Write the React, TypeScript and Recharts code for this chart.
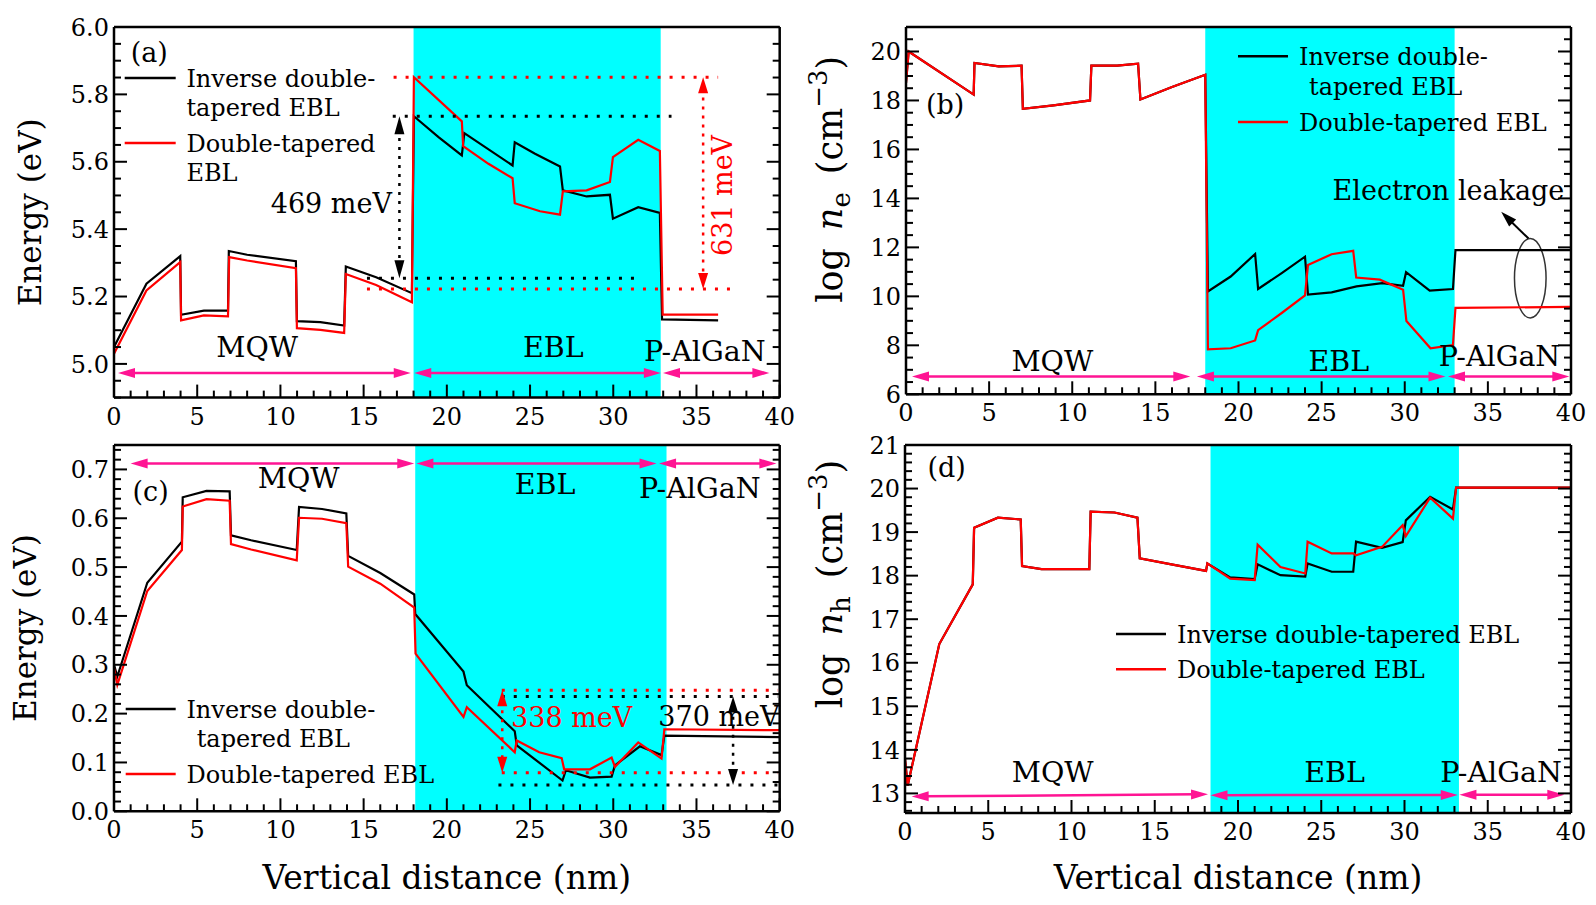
import React from 'react';
import { LineChart, Line, XAxis, YAxis, ReferenceArea, ReferenceLine, ReferenceDot, Legend } from 'recharts';

const FONT = '"DejaVu Serif", "Liberation Serif", serif';
const BLACK = '#000000';
const RED = '#ff0000';
const PINK = '#ff1493';
const CYAN = '#00ffff';

const seriesNames = ['Inverse double-tapered EBL', 'Double-tapered EBL'];

// ---------- x axis (shared) ----------
const xMajorTicks = [0, 5, 10, 15, 20, 25, 30, 35, 40];
const xMajorLabels = ['0', '5', '10', '15', '20', '25', '30', '35', '40'];

// ---------- (a) conduction band energy ----------
const aYMajor = [5.0, 5.2, 5.4, 5.6, 5.8, 6.0];
const aYLabels = ['5.0', '5.2', '5.4', '5.6', '5.8', '6.0'];
const aInverse: [number, number][] = [
  [0, 5.05], [1.95, 5.238], [3.98, 5.32], [4.03, 5.146], [5.4, 5.158], [6.85, 5.158], [6.9, 5.335],
  [8.0, 5.324], [10.93, 5.305], [10.99, 5.127], [12.4, 5.124], [13.83, 5.114], [13.93, 5.289],
  [15.75, 5.257], [17.9, 5.21], [18.02, 5.735], [19.5, 5.673], [20.9, 5.619], [21.05, 5.685],
  [23.95, 5.589], [24.08, 5.658], [25.3, 5.624], [26.8, 5.586], [26.97, 5.515], [28.4, 5.497],
  [29.8, 5.502], [29.98, 5.431], [31.5, 5.465], [32.8, 5.448], [32.93, 5.132], [36.3, 5.129],
];
const aDouble: [number, number][] = [
  [0, 5.03], [1.95, 5.218], [3.98, 5.302], [4.03, 5.129], [5.4, 5.144], [6.85, 5.141], [6.92, 5.317],
  [8.0, 5.307], [10.93, 5.284], [10.99, 5.106], [12.4, 5.101], [13.83, 5.092], [13.93, 5.267],
  [15.75, 5.234], [17.9, 5.183], [18.02, 5.851], [20.9, 5.72], [20.98, 5.646], [22.5, 5.594],
  [23.95, 5.551], [24.08, 5.477], [25.6, 5.453], [26.8, 5.443], [26.97, 5.512], [28.4, 5.515],
  [29.8, 5.54], [29.98, 5.614], [31.5, 5.665], [32.8, 5.632], [32.97, 5.146], [36.3, 5.146],
];

// ---------- (b) electron concentration ----------
const bYMajor = [6, 8, 10, 12, 14, 16, 18, 20];
const bYLabels = ['6', '8', '10', '12', '14', '16', '18', '20'];
const bMqw: [number, number][] = [
  [0, 18.72], [0.16, 20.0], [4.07, 18.24], [4.12, 19.53], [5.58, 19.39], [6.95, 19.42], [7.03, 17.66],
  [8.87, 17.8], [11.07, 18.0], [11.15, 19.42], [12.7, 19.42], [13.96, 19.5], [14.1, 18.04],
  [16.0, 18.55], [18.0, 19.05],
];
const bInverseEbl: [number, number][] = [
  [18.16, 10.2], [19.53, 10.81], [21.0, 11.73], [21.18, 10.3], [22.6, 10.95], [24.0, 11.62],
  [24.18, 10.07], [25.6, 10.16], [27.1, 10.41], [28.65, 10.54], [29.9, 10.43], [30.08, 10.99],
  [31.5, 10.23], [32.9, 10.3], [33.05, 11.89], [40, 11.89],
];
const bDoubleEbl: [number, number][] = [
  [18.16, 7.84], [19.53, 7.88], [21.0, 8.2], [21.18, 8.62], [22.6, 9.32], [24.0, 10.04],
  [24.18, 11.28], [25.6, 11.72], [26.9, 11.86], [27.08, 10.77], [28.5, 10.68], [29.9, 10.27],
  [30.1, 8.99], [31.55, 7.88], [32.9, 8.01], [33.05, 9.53], [40, 9.57],
];

// ---------- (c) valence band energy ----------
const cYMajor = [0, 0.1, 0.2, 0.3, 0.4, 0.5, 0.6, 0.7];
const cYLabels = ['0.0', '0.1', '0.2', '0.3', '0.4', '0.5', '0.6', '0.7'];
const cInverse: [number, number][] = [
  [0, 0.3], [0.2, 0.276], [2.0, 0.468], [4.08, 0.552], [4.13, 0.643], [5.56, 0.656], [6.95, 0.655],
  [7.03, 0.565], [8.24, 0.555], [10.98, 0.535], [11.12, 0.623], [12.5, 0.619], [13.96, 0.61],
  [14.07, 0.523], [16.0, 0.488], [18.04, 0.444], [18.1, 0.404], [21.0, 0.286], [21.2, 0.258],
  [24.08, 0.164], [24.2, 0.135], [26.95, 0.063], [27.15, 0.084], [28.6, 0.069], [29.9, 0.071],
  [30.1, 0.094], [31.6, 0.133], [32.9, 0.115], [33.07, 0.155], [40, 0.152],
];
const cDouble: [number, number][] = [
  [0, 0.293], [0.2, 0.259], [2.0, 0.451], [4.08, 0.535], [4.13, 0.624], [5.56, 0.639], [6.95, 0.636],
  [7.03, 0.547], [8.24, 0.536], [10.98, 0.514], [11.12, 0.601], [12.5, 0.599], [13.96, 0.59],
  [14.07, 0.501], [16.0, 0.466], [18.04, 0.417], [18.12, 0.323], [21.0, 0.193], [21.2, 0.213],
  [24.08, 0.121], [24.2, 0.145], [25.55, 0.121], [26.9, 0.109], [27.05, 0.086], [28.6, 0.086],
  [29.9, 0.11], [30.1, 0.091], [31.5, 0.141], [32.9, 0.108], [33.07, 0.168], [40, 0.166],
];

// ---------- (d) hole concentration ----------
const dYMajor = [13, 14, 15, 16, 17, 18, 19, 20, 21];
const dYLabels = ['13', '14', '15', '16', '17', '18', '19', '20', '21'];
const dMqw: [number, number][] = [
  [0, 13.79], [0.16, 13.18], [2.06, 16.43], [4.07, 17.8], [4.15, 19.1], [5.58, 19.33], [6.95, 19.29],
  [7.03, 18.22], [8.2, 18.15], [11.07, 18.15], [11.15, 19.47], [12.58, 19.45], [13.96, 19.33],
  [14.1, 18.4], [16.0, 18.26], [18.08, 18.11], [18.16, 18.28],
];
const dInverseEbl: [number, number][] = [
  [19.53, 17.96], [21.0, 17.92], [21.18, 18.26], [22.55, 18.01], [24.04, 17.98], [24.18, 18.28],
  [25.63, 18.09], [26.92, 18.09], [27.09, 18.78], [28.65, 18.64], [29.89, 18.77], [30.08, 19.27],
  [31.54, 19.81], [32.91, 19.52], [33.1, 20.02], [40, 20.02],
];
const dDoubleEbl: [number, number][] = [
  [19.53, 17.93], [21.0, 17.9], [21.18, 18.71], [22.55, 18.2], [24.04, 18.05], [24.18, 18.78],
  [25.63, 18.51], [26.92, 18.51], [27.09, 18.47], [28.65, 18.66], [29.89, 19.16], [30.08, 18.91],
  [31.54, 19.79], [32.91, 19.31], [33.1, 20.02], [40, 20.02],
];

// ---------- helpers ----------
type Pt = { x: number; y: number };
const toPts = (arr: [number, number][]): Pt[] => arr.map(([x, y]) => ({ x, y }));
function steps(a: number, b: number, step: number): number[] {
  const out: number[] = [];
  const n = Math.round((b - a) / step);
  for (let i = 0; i <= n; i++) out.push(+(a + i * step).toFixed(4));
  return out;
}

const TICK_FS = 24;
function makeTick(orient: 'bottom' | 'left' | 'top' | 'right', major: number[], labels: string[]) {
  return function TickMark(props: any) {
    const x = Number(props.x);
    const y = Number(props.y);
    const v = Number(props.payload?.value);
    const idx = major.findIndex((m) => Math.abs(m - v) < 1e-6);
    const len = idx >= 0 ? 13 : 7;
    let x2 = x;
    let y2 = y;
    if (orient === 'bottom') y2 = y - len;
    if (orient === 'top') y2 = y + len;
    if (orient === 'left') x2 = x + len;
    if (orient === 'right') x2 = x - len;
    return (
      <g>
        <line x1={x} y1={y} x2={x2} y2={y2} stroke={BLACK} strokeWidth={2} />
        {idx >= 0 && orient === 'bottom' && (
          <text x={x} y={y + 27} textAnchor="middle" fontFamily={FONT} fontSize={TICK_FS} fill={BLACK}>
            {labels[idx]}
          </text>
        )}
        {idx >= 0 && orient === 'left' && (
          <text x={x - 5} y={y + 8.7} textAnchor="end" fontFamily={FONT} fontSize={TICK_FS} fill={BLACK}>
            {labels[idx]}
          </text>
        )}
      </g>
    );
  };
}

type Note = { t: string; x: number; y: number; fs?: number; color?: string; anchor?: 'start' | 'middle' | 'end'; rot?: boolean };
function noteShape(n: Note) {
  const fs = n.fs ?? 27;
  return (p: any) => {
    const cx = Number(p.cx);
    const cy = Number(p.cy);
    return (
      <text
        x={cx}
        y={cy + 0.36 * fs}
        textAnchor={n.anchor ?? 'middle'}
        fontFamily={FONT}
        fontSize={fs}
        fill={n.color ?? BLACK}
        transform={n.rot ? `rotate(-90 ${cx} ${cy})` : undefined}
      >
        {n.t}
      </text>
    );
  };
}

type ArrowOpts = { dash?: string; sw?: number; hl?: number; hw?: number; start?: boolean; end?: boolean };
function arrowShape(color: string, o: ArrowOpts) {
  const { dash, sw = 2.5, hl = 16, hw = 5, start = true, end = true } = o;
  return (p: any) => {
    const x1 = Number(p.x1), y1 = Number(p.y1), x2 = Number(p.x2), y2 = Number(p.y2);
    const dx = x2 - x1, dy = y2 - y1;
    const len = Math.hypot(dx, dy) || 1;
    const ux = dx / len, uy = dy / len;
    const nx = -uy, ny = ux;
    const sx = start ? x1 + ux * hl * 0.7 : x1;
    const sy = start ? y1 + uy * hl * 0.7 : y1;
    const ex = end ? x2 - ux * hl * 0.7 : x2;
    const ey = end ? y2 - uy * hl * 0.7 : y2;
    const head = (tx: number, ty: number, dirx: number, diry: number) =>
      `${tx},${ty} ${tx - dirx * hl + nx * hw},${ty - diry * hl + ny * hw} ${tx - dirx * hl - nx * hw},${ty - diry * hl - ny * hw}`;
    return (
      <g>
        <line x1={sx} y1={sy} x2={ex} y2={ey} stroke={color} strokeWidth={sw} strokeDasharray={dash} />
        {start && <polygon points={head(x1, y1, -ux, -uy)} fill={color} />}
        {end && <polygon points={head(x2, y2, ux, uy)} fill={color} />}
      </g>
    );
  };
}

type Seg = { x1: number; y1: number; x2: number; y2: number };
type DotLine = Seg & { color: string };
type Arrow = Seg & { color: string; o: ArrowOpts };
type LegendRow = { y: number; tx: number; text: string; color?: string };
type Box = { l: number; t: number; w: number; h: number };

type PanelCfg = {
  id: string;
  plot: { L: number; T: number; R: number; B: number };
  yDomain: [number, number];
  yMajor: number[];
  yLabels: string[];
  yTicks: number[];
  band: [number, number];
  series: { name: string; data: Pt[]; color: string }[];
  yTitle: (cx: number, cy: number) => React.ReactNode;
  yTitlePos: [number, number];
  xTitle: boolean;
  legendLine: [number, number];
  legendRows: LegendRow[];
  notes: Note[];
  dots: DotLine[];
  arrows: Arrow[];
  ellipse?: { x1: number; x2: number; y1: number; y2: number };
};

const energyTitle = (cx: number, cy: number) => (
  <text transform={`rotate(-90 ${cx} ${cy})`} x={cx} y={cy + 11} textAnchor="middle" fontFamily={FONT} fontSize={31} fill={BLACK}>
    Energy (eV)
  </text>
);
const logTitle = (sub: string) => (cx: number, cy: number) => (
  <text transform={`rotate(-90 ${cx} ${cy})`} x={cx} y={cy + 12} textAnchor="middle" fontFamily={FONT} fontSize={35} fill={BLACK}>
    <tspan>log</tspan>
    <tspan fontStyle="italic" dx={18}>n</tspan>
    <tspan fontSize={26} dy={8}>{sub}</tspan>
    <tspan dy={-8} dx={18}>(cm</tspan>
    <tspan fontSize={26} dy={-15}>{'\u22123'}</tspan>
    <tspan dy={15}>)</tspan>
  </text>
);

const pinkO: ArrowOpts = { sw: 2.5, hl: 17, hw: 5 };

const panels: PanelCfg[] = [
  {
    id: 'a',
    plot: { L: 114.3, T: 26.7, R: 780, B: 397.3 },
    yDomain: [4.9, 6.0],
    yMajor: aYMajor,
    yLabels: aYLabels,
    yTicks: steps(4.9, 6.0, 0.05),
    band: [18.0, 32.85],
    series: [
      { name: seriesNames[0], data: toPts(aInverse), color: BLACK },
      { name: seriesNames[1], data: toPts(aDouble), color: RED },
    ],
    yTitle: energyTitle,
    yTitlePos: [30.5, 212],
    xTitle: false,
    legendLine: [125, 176],
    legendRows: [
      { y: 77.7, tx: 186.7, text: 'Inverse double-', color: BLACK },
      { y: 107.3, tx: 186.7, text: 'tapered EBL' },
      { y: 142.7, tx: 186.7, text: 'Double-tapered', color: RED },
      { y: 172.3, tx: 186.7, text: 'EBL' },
    ],
    notes: [
      { t: '(a)', x: 2.12, y: 5.926 },
      { t: '469 meV', x: 16.7, y: 5.477, anchor: 'end' },
      { t: '631 meV', x: 36.56, y: 5.5, color: RED, rot: true },
      { t: 'MQW', x: 8.6, y: 5.05, fs: 28.5 },
      { t: 'EBL', x: 26.4, y: 5.05, fs: 28.5 },
      { t: 'P-AlGaN', x: 35.5, y: 5.04, fs: 28.5 },
    ],
    dots: [
      { x1: 16.75, y1: 5.735, x2: 33.5, y2: 5.735, color: BLACK },
      { x1: 15.2, y1: 5.254, x2: 31.3, y2: 5.254, color: BLACK },
      { x1: 16.8, y1: 5.851, x2: 36.3, y2: 5.851, color: RED },
      { x1: 15.2, y1: 5.222, x2: 37.2, y2: 5.222, color: RED },
    ],
    arrows: [
      { x1: 17.15, y1: 5.735, x2: 17.15, y2: 5.254, color: BLACK, o: { dash: '3 6', sw: 2.5, hl: 18, hw: 5 } },
      { x1: 35.4, y1: 5.851, x2: 35.4, y2: 5.222, color: RED, o: { dash: '3 6', sw: 2.5, hl: 16, hw: 5 } },
      { x1: 0.24, y1: 4.973, x2: 17.83, y2: 4.973, color: PINK, o: pinkO },
      { x1: 18.04, y1: 4.973, x2: 32.86, y2: 4.973, color: PINK, o: pinkO },
      { x1: 32.99, y1: 4.973, x2: 39.38, y2: 4.973, color: PINK, o: pinkO },
    ],
  },
  {
    id: 'b',
    plot: { L: 906, T: 26.7, R: 1571, B: 394 },
    yDomain: [6, 21],
    yMajor: bYMajor,
    yLabels: bYLabels,
    yTicks: steps(6, 21, 0.5),
    band: [18.0, 33.0],
    series: [
      { name: seriesNames[0], data: toPts([...bMqw, ...bInverseEbl]), color: BLACK },
      { name: seriesNames[1], data: toPts([...bMqw, ...bDoubleEbl]), color: RED },
    ],
    yTitle: logTitle('e'),
    yTitlePos: [829.6, 179],
    xTitle: false,
    legendLine: [1238, 1288],
    legendRows: [
      { y: 56, tx: 1299, text: 'Inverse double-', color: BLACK },
      { y: 86, tx: 1309, text: 'tapered EBL' },
      { y: 121.7, tx: 1299, text: 'Double-tapered EBL', color: RED },
    ],
    notes: [
      { t: '(b)', x: 2.36, y: 17.86 },
      { t: 'Electron leakage', x: 32.63, y: 14.34 },
      { t: 'MQW', x: 8.8, y: 7.39, fs: 28.5 },
      { t: 'EBL', x: 26.04, y: 7.39, fs: 28.5 },
      { t: 'P-AlGaN', x: 35.7, y: 7.57, fs: 28.5 },
    ],
    dots: [],
    arrows: [
      { x1: 37.45, y1: 12.36, x2: 35.8, y2: 13.45, color: BLACK, o: { sw: 2, hl: 16, hw: 5, start: false } },
      { x1: 0.36, y1: 6.73, x2: 17.1, y2: 6.73, color: PINK, o: pinkO },
      { x1: 17.5, y1: 6.73, x2: 32.45, y2: 6.73, color: PINK, o: pinkO },
      { x1: 32.6, y1: 6.73, x2: 39.9, y2: 6.73, color: PINK, o: pinkO },
    ],
    ellipse: { x1: 36.6, x2: 38.5, y1: 9.12, y2: 12.36 },
  },
  {
    id: 'c',
    plot: { L: 114.3, T: 445, R: 780, B: 811.3 },
    yDomain: [0, 0.75],
    yMajor: cYMajor,
    yLabels: cYLabels,
    yTicks: steps(0, 0.74, 0.02),
    band: [18.1, 33.2],
    series: [
      { name: seriesNames[0], data: toPts(cInverse), color: BLACK },
      { name: seriesNames[1], data: toPts(cDouble), color: RED },
    ],
    yTitle: energyTitle,
    yTitlePos: [25.5, 628],
    xTitle: true,
    legendLine: [126, 176],
    legendRows: [
      { y: 709, tx: 186.7, text: 'Inverse double-', color: BLACK },
      { y: 738, tx: 197, text: 'tapered EBL' },
      { y: 774, tx: 186.7, text: 'Double-tapered EBL', color: RED },
    ],
    notes: [
      { t: '(c)', x: 2.2, y: 0.656 },
      { t: 'MQW', x: 11.1, y: 0.683, fs: 28.5 },
      { t: 'EBL', x: 25.9, y: 0.67, fs: 28.5 },
      { t: 'P-AlGaN', x: 35.2, y: 0.662, fs: 28.5 },
      { t: '338 meV', x: 27.5, y: 0.192, color: RED },
      { t: '370 meV', x: 36.35, y: 0.195 },
    ],
    dots: [
      { x1: 23.3, y1: 0.248, x2: 39.9, y2: 0.248, color: RED },
      { x1: 23.3, y1: 0.235, x2: 39.9, y2: 0.235, color: BLACK },
      { x1: 23.3, y1: 0.079, x2: 39.9, y2: 0.079, color: RED },
      { x1: 23.1, y1: 0.054, x2: 39.9, y2: 0.054, color: BLACK },
    ],
    arrows: [
      { x1: 23.33, y1: 0.248, x2: 23.33, y2: 0.079, color: RED, o: { dash: '3 6', sw: 2.5, hl: 16, hw: 5 } },
      { x1: 37.2, y1: 0.235, x2: 37.2, y2: 0.054, color: BLACK, o: { dash: '3 6', sw: 2.5, hl: 16, hw: 5 } },
      { x1: 1.0, y1: 0.712, x2: 18.04, y2: 0.712, color: PINK, o: pinkO },
      { x1: 18.17, y1: 0.712, x2: 32.6, y2: 0.712, color: PINK, o: pinkO },
      { x1: 32.75, y1: 0.712, x2: 39.8, y2: 0.712, color: PINK, o: pinkO },
    ],
  },
  {
    id: 'd',
    plot: { L: 905, T: 445, R: 1571, B: 813 },
    yDomain: [12.55, 21],
    yMajor: dYMajor,
    yLabels: dYLabels,
    yTicks: steps(12.6, 21, 0.2),
    band: [18.35, 33.27],
    series: [
      { name: seriesNames[0], data: toPts([...dMqw, ...dInverseEbl]), color: BLACK },
      { name: seriesNames[1], data: toPts([...dMqw, ...dDoubleEbl]), color: RED },
    ],
    yTitle: logTitle('h'),
    yTitlePos: [829.6, 584],
    xTitle: true,
    legendLine: [1116, 1166],
    legendRows: [
      { y: 634, tx: 1177, text: 'Inverse double-tapered EBL', color: BLACK },
      { y: 669.3, tx: 1177, text: 'Double-tapered EBL', color: RED },
    ],
    notes: [
      { t: '(d)', x: 2.5, y: 20.48 },
      { t: 'MQW', x: 8.87, y: 13.5, fs: 28.5 },
      { t: 'EBL', x: 25.8, y: 13.5, fs: 28.5 },
      { t: 'P-AlGaN', x: 35.8, y: 13.5, fs: 28.5 },
    ],
    dots: [],
    arrows: [
      { x1: 0.4, y1: 12.93, x2: 18.2, y2: 12.98, color: PINK, o: pinkO },
      { x1: 18.35, y1: 12.96, x2: 33.2, y2: 12.965, color: PINK, o: pinkO },
      { x1: 33.3, y1: 12.97, x2: 39.6, y2: 12.97, color: PINK, o: pinkO },
    ],
  },
];

const xTicks = steps(0, 40, 1);
const axisLineStyle = { stroke: BLACK, strokeWidth: 2.5 };

function Panel({ cfg }: { cfg: PanelCfg }) {
  const { L, T, R, B } = cfg.plot;
  const box: Box = { l: L - 114, t: T - 26, w: R - L + 139, h: B - T + 121 };
  const [ytx, yty] = cfg.yTitlePos;
  const xTitleNode = () => (
    <text x={(L + R) / 2 - box.l} y={889 - box.t} textAnchor="middle" fontFamily={FONT} fontSize={33} fill={BLACK}>
      Vertical distance (nm)
    </text>
  );
  const yTitleNode = () => <g>{cfg.yTitle(ytx - box.l, yty - box.t)}</g>;
  const legendNode = () => (
    <svg width={box.w} height={box.h} style={{ position: 'absolute', left: 0, top: 0, overflow: 'visible', pointerEvents: 'none' }}>
      {cfg.legendRows.map((r, i) => (
        <g key={i}>
          {r.color && (
            <line x1={cfg.legendLine[0] - box.l} x2={cfg.legendLine[1] - box.l} y1={r.y - box.t} y2={r.y - box.t} stroke={r.color} strokeWidth={2.5} />
          )}
          <text x={r.tx - box.l} y={r.y - box.t + 8.6} fontFamily={FONT} fontSize={24} fill={BLACK}>
            {r.text}
          </text>
        </g>
      ))}
    </svg>
  );
  return (
    <div style={{ position: 'absolute', left: box.l, top: box.t, width: box.w, height: box.h }}>
      <LineChart width={box.w} height={box.h} margin={{ left: 54, top: 25, right: 24, bottom: 55 }}>
        <ReferenceArea
          x1={cfg.band[0]}
          x2={cfg.band[1]}
          y1={cfg.yDomain[0]}
          y2={cfg.yDomain[1]}
          fill={CYAN}
          fillOpacity={1}
          stroke="none"
          ifOverflow="visible"
        />
        {cfg.series.map((s) => (
          <Line
            key={s.name}
            name={s.name}
            data={s.data}
            dataKey="y"
            type="linear"
            stroke={s.color}
            strokeWidth={2.2}
            dot={false}
            activeDot={false}
            isAnimationActive={false}
          />
        ))}
        {cfg.dots.map((d, i) => (
          <ReferenceLine
            key={`dl${i}`}
            segment={[{ x: d.x1, y: d.y1 }, { x: d.x2, y: d.y2 }]}
            stroke={d.color}
            strokeWidth={3}
            strokeDasharray="3 9"
            ifOverflow="visible"
          />
        ))}
        {cfg.arrows.map((a, i) => (
          <ReferenceLine
            key={`ar${i}`}
            segment={[{ x: a.x1, y: a.y1 }, { x: a.x2, y: a.y2 }]}
            ifOverflow="visible"
            shape={arrowShape(a.color, a.o)}
          />
        ))}
        {cfg.ellipse && (
          <ReferenceArea
            x1={cfg.ellipse.x1}
            x2={cfg.ellipse.x2}
            y1={cfg.ellipse.y1}
            y2={cfg.ellipse.y2}
            ifOverflow="visible"
            shape={(p: any) => (
              <ellipse
                cx={Number(p.x) + Number(p.width) / 2}
                cy={Number(p.y) + Number(p.height) / 2}
                rx={Math.abs(Number(p.width)) / 2}
                ry={Math.abs(Number(p.height)) / 2}
                fill="none"
                stroke="#333"
                strokeWidth={1.5}
              />
            )}
          />
        )}
        {cfg.notes.map((n, i) => (
          <ReferenceDot key={`nt${i}`} x={n.x} y={n.y} r={0} ifOverflow="visible" shape={noteShape(n)} />
        ))}
        <XAxis
          xAxisId={0}
          type="number"
          dataKey="x"
          domain={[0, 40]}
          allowDataOverflow
          ticks={xTicks}
          interval={0}
          tickSize={0}
          tickMargin={0}
          tickLine={false}
          tick={makeTick('bottom', xMajorTicks, xMajorLabels)}
          axisLine={axisLineStyle}
          height={40}
          label={cfg.xTitle ? xTitleNode : undefined}
        />
        <XAxis
          xAxisId="t"
          orientation="top"
          type="number"
          domain={[0, 40]}
          allowDataOverflow
          ticks={xTicks}
          interval={0}
          tickSize={0}
          tickMargin={0}
          tickLine={false}
          tick={makeTick('top', xMajorTicks, xMajorLabels)}
          axisLine={axisLineStyle}
          height={1}
        />
        <YAxis
          yAxisId={0}
          type="number"
          domain={cfg.yDomain}
          allowDataOverflow
          ticks={cfg.yTicks}
          interval={0}
          tickSize={0}
          tickMargin={0}
          tickLine={false}
          tick={makeTick('left', cfg.yMajor, cfg.yLabels)}
          axisLine={axisLineStyle}
          width={60}
          label={yTitleNode}
        />
        <YAxis
          yAxisId="r"
          orientation="right"
          type="number"
          domain={cfg.yDomain}
          allowDataOverflow
          ticks={cfg.yTicks}
          interval={0}
          tickSize={0}
          tickMargin={0}
          tickLine={false}
          tick={makeTick('right', cfg.yMajor, cfg.yLabels)}
          axisLine={axisLineStyle}
          width={1}
        />
        <Legend
          layout="vertical"
          align="center"
          verticalAlign="middle"
          wrapperStyle={{ left: 0, top: 0, width: box.w, height: box.h, pointerEvents: 'none' }}
          content={legendNode}
        />
      </LineChart>
    </div>
  );
}

export default function App() {
  return (
    <div style={{ position: 'absolute', left: 0, top: 0, width: 1596, height: 905, background: '#ffffff', overflow: 'hidden' }}>
      {panels.map((p) => (
        <Panel key={p.id} cfg={p} />
      ))}
    </div>
  );
}
